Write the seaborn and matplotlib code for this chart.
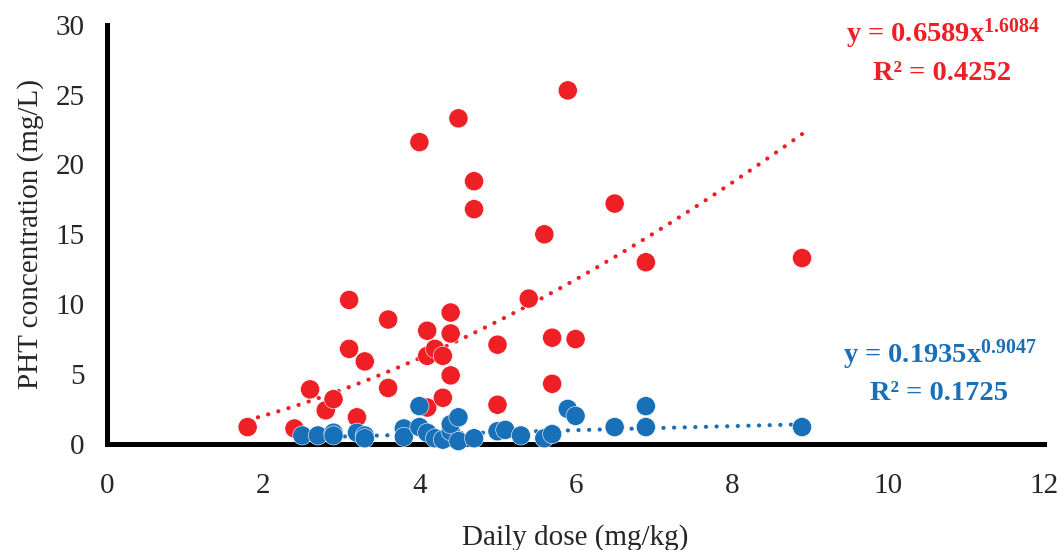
import numpy as np
import pandas as pd
import matplotlib
matplotlib.use("Agg")
import matplotlib.pyplot as plt
import seaborn as sns

# Daily dose (mg/kg) and PHT concentration (mg/L), two series
red_dose = [1.8, 2.4, 2.6, 2.8, 2.9, 3.1, 3.1, 3.2, 3.3, 3.6, 3.6, 4.0, 4.1, 4.1,
            4.1, 4.2, 4.3, 4.3, 4.4, 4.4, 4.4, 4.5, 4.7, 4.7, 5.0, 5.0, 5.4, 5.6,
            5.7, 5.7, 5.9, 6.0, 6.5, 6.9, 8.9]
red_conc = [1.2, 1.1, 3.9, 2.4, 3.2, 10.3, 6.8, 1.9, 5.9, 4.0, 8.9, 21.6, 8.1, 6.3,
            2.6, 6.8, 6.3, 3.3, 9.4, 7.9, 4.9, 23.3, 18.8, 16.8, 7.1, 2.8, 10.4, 15.0,
            7.6, 4.3, 25.3, 7.5, 17.2, 13.0, 13.3]

blue_dose = [2.5, 2.7, 2.9, 2.9, 3.2, 3.3, 3.3, 3.8, 3.8, 4.0, 4.0, 4.1, 4.2, 4.3,
             4.4, 4.4, 4.5, 4.5, 4.7, 5.0, 5.1, 5.3, 5.6, 5.7, 5.9, 6.0, 6.5, 6.9,
             6.9, 8.9]
blue_conc = [0.6, 0.6, 0.8, 0.6, 0.8, 0.6, 0.4, 1.1, 0.5, 2.7, 1.2, 0.8, 0.4, 0.3,
             0.9, 1.4, 1.9, 0.2, 0.4, 0.9, 1.0, 0.6, 0.4, 0.7, 2.5, 2.0, 1.2, 2.7,
             1.2, 1.2]

# Power-law trend coefficients (y = a * x^b) and R²
red_a, red_b, red_r2 = 0.6589, 1.6084, 0.4252
blue_a, blue_b, blue_r2 = 0.1935, 0.9047, 0.1725

x_ticks = [0, 2, 4, 6, 8, 10, 12]
y_ticks = [0, 5, 10, 15, 20, 25, 30]

RED = "#EE1F25"
BLUE = "#1870B9"

sns.set_style("white")
plt.rcParams["font.family"] = ["Liberation Serif", "DejaVu Serif"]
plt.rcParams["mathtext.fontset"] = "custom"
plt.rcParams["mathtext.rm"] = "Liberation Serif:bold"
plt.rcParams["mathtext.bf"] = "Liberation Serif:bold"
plt.rcParams["mathtext.it"] = "Liberation Serif:bold"

df = pd.concat([
    pd.DataFrame({"dose": red_dose, "conc": red_conc, "group": "red"}),
    pd.DataFrame({"dose": blue_dose, "conc": blue_conc, "group": "blue"}),
], ignore_index=True)

fig = plt.figure(figsize=(10.6, 5.5), dpi=100)
ax = fig.add_axes([0.101, 0.193, 0.884, 0.762])

# trend curves drawn from the stated equations, beneath the markers
for dose, a, b, col in [(red_dose, red_a, red_b, RED), (blue_dose, blue_a, blue_b, BLUE)]:
    xs = np.linspace(min(dose), max(dose), 200)
    sns.lineplot(x=xs, y=a * xs ** b, ax=ax, color=col, lw=3.0,
                 linestyle=(0, (0.05, 2.5)), dash_capstyle="round", zorder=2)

sns.scatterplot(data=df, x="dose", y="conc", hue="group",
                palette={"red": RED, "blue": BLUE}, s=190,
                edgecolor="white", linewidth=0.4, legend=False, ax=ax, zorder=3)

ax.set_xlim(0, 12)
ax.set_ylim(0, 30)
ax.set_xticks(x_ticks)
ax.set_yticks(y_ticks)
ax.set_xticklabels([str(t) for t in x_ticks])
ax.set_yticklabels([str(t) for t in y_ticks])
ax.tick_params(axis="both", direction="out", length=7, width=3.2,
               labelsize=21, color="black")
ax.tick_params(axis="x", pad=14)
ax.tick_params(axis="y", pad=9)
for side in ["top", "right"]:
    ax.spines[side].set_visible(False)
for side in ["left", "bottom"]:
    ax.spines[side].set_linewidth(3.6)
    ax.spines[side].set_color("black")
ax.grid(False)
for c in ax.collections:
    c.set_clip_on(False)

ax.set_xlabel("Daily dose (mg/kg)", fontsize=21, labelpad=18)
ax.set_ylabel("PHT concentration (mg/L)", fontsize=21, labelpad=8)

fig.text(0.890, 0.924, rf"y = {red_a:.4f}x$^{{{red_b:.4f}}}$", color=RED,
         fontsize=20.5, fontweight="bold", ha="center", va="baseline")
fig.text(0.889, 0.855, f"R² = {red_r2:.4f}", color=RED,
         fontsize=20.5, fontweight="bold", ha="center", va="baseline")
fig.text(0.887, 0.340, rf"y = {blue_a:.4f}x$^{{{blue_b:.4f}}}$", color=BLUE,
         fontsize=20.5, fontweight="bold", ha="center", va="baseline")
fig.text(0.886, 0.272, f"R² = {blue_r2:.4f}", color=BLUE,
         fontsize=20.5, fontweight="bold", ha="center", va="baseline")

fig.savefig("out.png", dpi=100)
